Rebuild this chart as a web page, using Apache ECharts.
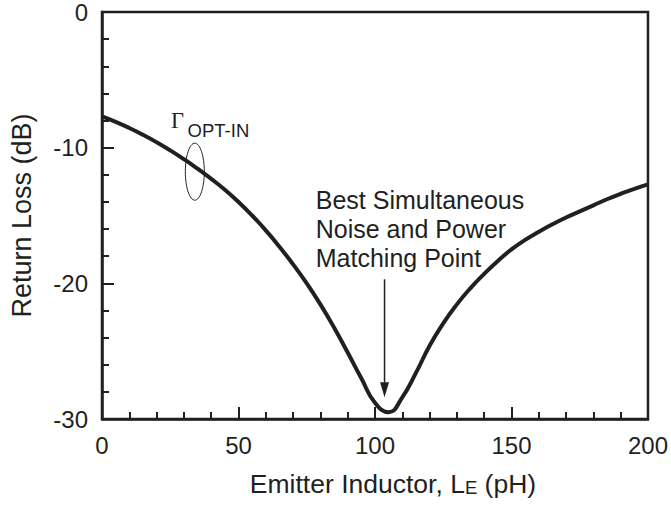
<!DOCTYPE html>
<html>
<head>
<meta charset="utf-8">
<title>Return Loss vs Emitter Inductor</title>
<script src="https://cdn.jsdelivr.net/npm/echarts@6/dist/echarts.min.js"></script>
<style>
  html, body { margin: 0; padding: 0; background: #ffffff; }
  #chart { width: 671px; height: 508px; }
</style>
</head>
<body>
<div id="chart"></div>
<script>
// Emitter inductance sweep (pH) and the resulting input return loss (dB)
const inductancePH = [0, 5, 10, 15, 20, 25, 30, 35, 40, 45, 50, 55, 60, 65, 70, 75, 80, 85, 90, 95, 100,
  105, 110, 115, 120, 125, 130, 135, 140, 145, 150, 155, 160, 165, 170, 175, 180, 185, 190, 195, 200];
const returnLossDB = [-7.7, -8.1, -8.55, -9.05, -9.6, -10.2, -10.85, -11.55, -12.3, -13.1, -14.0, -15.0, -16.1, -17.3, -18.6, -20.0, -21.55, -23.25, -25.1, -27.0, -28.8,
  -29.5, -28.4, -26.6, -24.6, -22.95, -21.55, -20.35, -19.3, -18.35, -17.5, -16.8, -16.2, -15.65, -15.15, -14.7, -14.25, -13.8, -13.4, -13.03, -12.7];

// Axis ranges and tick steps
const xRange = [0, 200];
const xStep = 50;
const yRange = [-30, 0];
const yStep = 10;

// Annotation anchors, in data units
const gammaAnchor = [34.0, -11.77];          // centre of the ellipse marking the curve
const gammaTextAnchor = [25.3, -7.15];
const bestPointArrow = [[103.5, -19.7], [103.5, -28.4]];
const bestPointText = ['Best Simultaneous', 'Noise and Power', 'Matching Point'];
const bestPointTextAnchor = [78.3, -12.8];

const INK = '#231f20';
const SANS = '"Liberation Sans", Arial, Helvetica, sans-serif';
const SERIF = '"Liberation Serif", "Times New Roman", serif';

const chart = echarts.init(document.getElementById('chart'), null, { renderer: 'svg' });

const axisCommon = {
  type: 'value',
  axisLine: { show: true, onZero: false, lineStyle: { color: INK, width: 2.5 } },
  axisTick: { show: true, inside: true, length: 12, lineStyle: { color: INK, width: 2 } },
  minorTick: { show: true, splitNumber: 5, length: 7, lineStyle: { color: INK, width: 2 } },
  splitLine: { show: false },
  minorSplitLine: { show: false },
  axisLabel: { color: INK, fontSize: 24, fontFamily: SANS, margin: 14 }
};

chart.setOption({
  animation: false,
  backgroundColor: '#ffffff',
  grid: {
    left: 102, right: 20, top: 7, bottom: 89,
    show: true, borderColor: INK, borderWidth: 2.5, backgroundColor: 'transparent'
  },
  xAxis: Object.assign({}, axisCommon, {
    min: xRange[0], max: xRange[1], interval: xStep,
    name: 'Emitter Inductor, L{sub|E} (pH)',
    nameLocation: 'middle',
    nameGap: 51,
    nameTextStyle: {
      color: INK, fontSize: 26.5, fontFamily: SANS, padding: [0, 0, 0, 36],
      rich: { sub: { fontSize: 18.5, fontFamily: SANS, color: INK, verticalAlign: 'bottom', padding: [6, 0, 0, 0] } }
    }
  }),
  yAxis: Object.assign({}, axisCommon, {
    min: yRange[0], max: yRange[1], interval: yStep,
    name: 'Return Loss (dB)',
    nameLocation: 'middle',
    nameGap: 67,
    nameTextStyle: { color: INK, fontSize: 27, fontFamily: SANS }
  }),
  series: [{
    type: 'line',
    data: inductancePH.map((x, i) => [x, returnLossDB[i]]),
    smooth: 0.5,
    showSymbol: false,
    lineStyle: { color: INK, width: 4 },
    z: 3
  }]
});

// Annotations placed through the axis scales
function px(pt) { return chart.convertToPixel({ gridIndex: 0 }, pt); }

const ell = px(gammaAnchor);
const gTxt = px(gammaTextAnchor);
const arrowTop = px(bestPointArrow[0]);
const arrowTip = px(bestPointArrow[1]);
const noteAt = px(bestPointTextAnchor);
const headW = 9, headH = 15;

chart.setOption({
  graphic: [
    {
      type: 'ellipse',
      shape: { cx: ell[0], cy: ell[1], rx: 9.5, ry: 28.5 },
      style: { fill: 'none', stroke: INK, lineWidth: 1 },
      z: 10
    },
    {
      type: 'text',
      x: gTxt[0], y: gTxt[1],
      style: { text: 'Γ', font: '22.5px ' + SERIF, fill: INK, textVerticalAlign: 'top' },
      z: 10
    },
    {
      type: 'text',
      x: gTxt[0] + 16.5, y: gTxt[1] + 11.5,
      style: { text: 'OPT-IN', font: '18.5px ' + SANS, fill: INK, textVerticalAlign: 'top' },
      z: 10
    },
    {
      type: 'line',
      shape: { x1: arrowTop[0], y1: arrowTop[1], x2: arrowTip[0], y2: arrowTip[1] - headH + 2 },
      style: { stroke: INK, lineWidth: 1.5 },
      z: 10
    },
    {
      type: 'polygon',
      shape: { points: [[arrowTip[0] - headW / 2, arrowTip[1] - headH], [arrowTip[0] + headW / 2, arrowTip[1] - headH], [arrowTip[0], arrowTip[1]]] },
      style: { fill: INK },
      z: 10
    },
    {
      type: 'text',
      x: noteAt[0], y: noteAt[1],
      style: { text: bestPointText.join('\n'), font: '25px ' + SANS, lineHeight: 29, fill: INK, textVerticalAlign: 'top' },
      z: 10
    }
  ]
});
</script>
</body>
</html>
